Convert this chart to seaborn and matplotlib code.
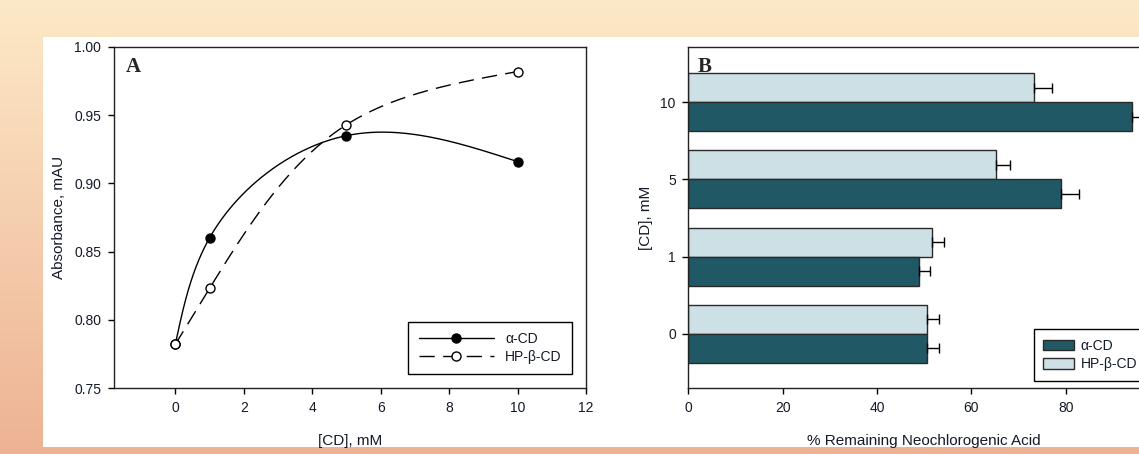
import numpy as np
import pandas as pd
import matplotlib
matplotlib.use("Agg")
import matplotlib.pyplot as plt
from matplotlib.patches import Rectangle, Patch
from matplotlib.lines import Line2D
import seaborn as sns

# ---------------- data ----------------
conc_a = [0, 1, 5, 10]
alpha_abs = [0.782, 0.860, 0.935, 0.916]
hpb_abs = [0.782, 0.823, 0.943, 0.982]

conc_labels = ["10", "5", "1", "0"]
alpha_remain = [94.1, 79.0, 48.9, 50.7]
alpha_err = [4.0, 3.8, 2.3, 2.5]
hpb_remain = [73.3, 65.2, 51.7, 50.7]
hpb_err = [3.7, 3.0, 2.5, 2.5]

series_names = ["α-CD", "HP-β-CD"]

# ---------------- style ----------------
sns.set_theme(style="ticks")
plt.rcParams["font.family"] = ["Liberation Sans", "DejaVu Sans"]
plt.rcParams["axes.linewidth"] = 1.0
plt.rcParams["xtick.major.size"] = 4
plt.rcParams["ytick.major.size"] = 4
plt.rcParams["xtick.major.width"] = 1
plt.rcParams["ytick.major.width"] = 1
TXT = "#141a28"

W, H = 1139, 454
fig = plt.figure(figsize=(W / 100, H / 100), dpi=100)

# background gradient + white panel
bg = fig.add_axes([0, 0, 1, 1], zorder=-10)
grad = np.linspace(0, 1, 256)[:, None]
top = np.array([0.992, 0.914, 0.780])
bot = np.array([0.930, 0.700, 0.580])
img = top[None, None, :] * (1 - grad[..., None]) + bot[None, None, :] * grad[..., None]
img = np.repeat(img, 2, axis=1)
bg.imshow(img, aspect="auto", extent=[0, 1, 0, 1], origin="upper")
bg.add_patch(Rectangle((43 / W, (H - 447) / H), 1 - 43 / W, (447 - 37) / H,
                       transform=bg.transAxes, facecolor="white", edgecolor="none"))
bg.set_xlim(0, 1); bg.set_ylim(0, 1)
bg.axis("off")


def natural_spline_1d(t, y, ts):
    t = np.asarray(t, float); y = np.asarray(y, float)
    n = len(t)
    h = np.diff(t)
    A = np.zeros((n, n)); r = np.zeros(n)
    A[0, 0] = 1; A[-1, -1] = 1
    for i in range(1, n - 1):
        A[i, i - 1] = h[i - 1]
        A[i, i] = 2 * (h[i - 1] + h[i])
        A[i, i + 1] = h[i]
        r[i] = 3 * ((y[i + 1] - y[i]) / h[i] - (y[i] - y[i - 1]) / h[i - 1])
    c = np.linalg.solve(A, r)
    b = np.zeros(n - 1); d = np.zeros(n - 1)
    for i in range(n - 1):
        b[i] = (y[i + 1] - y[i]) / h[i] - h[i] * (2 * c[i] + c[i + 1]) / 3
        d[i] = (c[i + 1] - c[i]) / (3 * h[i])
    idx = np.clip(np.searchsorted(t, ts, side="right") - 1, 0, n - 2)
    dt = ts - t[idx]
    return y[idx] + b[idx] * dt + c[idx] * dt ** 2 + d[idx] * dt ** 3


def parametric_spline(x, y, sx, sy, npts=400):
    """Smooth curve through the points, chord-length parametrised in screen scale."""
    x = np.asarray(x, float); y = np.asarray(y, float)
    px, py = x * sx, y * sy
    t = np.concatenate([[0], np.cumsum(np.hypot(np.diff(px), np.diff(py)))])
    ts = np.linspace(0, t[-1], npts)
    return natural_spline_1d(t, x, ts), natural_spline_1d(t, y, ts)


# ---------------- panel A ----------------
axA = fig.add_axes([113.7 / W, 66 / H, (586 - 113.7) / W, 341 / H])
SX, SY = 34.33, 1364.0  # px per data unit
cx1, cy1 = parametric_spline(conc_a, alpha_abs, SX, SY)
cx2, cy2 = parametric_spline(conc_a, hpb_abs, SX, SY)
sns.lineplot(x=cx1, y=cy1, ax=axA, color="black", lw=1.0, legend=False,
             estimator=None, sort=False)
sns.lineplot(x=cx2, y=cy2, ax=axA, color="black", lw=1.0, legend=False,
             estimator=None, sort=False)
axA.lines[1].set_dashes([11, 6])
sns.scatterplot(x=conc_a, y=alpha_abs, ax=axA, color="black", s=42, edgecolor="black",
                linewidth=1, zorder=5)
sns.scatterplot(x=conc_a, y=hpb_abs, ax=axA, color="white", s=42, edgecolor="black",
                linewidth=1, zorder=6)
axA.set_xlim(-1.8, 12)
axA.set_ylim(0.75, 1.0)
axA.set_xticks([0, 2, 4, 6, 8, 10, 12])
yt = [0.75, 0.80, 0.85, 0.90, 0.95, 1.00]
axA.set_yticks(yt)
axA.set_yticklabels([f"{v:.2f}" for v in yt])
axA.tick_params(labelsize=10, colors="black", labelcolor=TXT, pad=5)
axA.set_xlabel("[CD], mM", fontsize=11, color=TXT, labelpad=14)
axA.set_ylabel("Absorbance, mAU", fontsize=11, color=TXT, labelpad=6)
for s in axA.spines.values():
    s.set_color("#222222")
axA.text(0.025, 0.97, "A", transform=axA.transAxes, fontsize=15, fontweight="bold",
         family="Liberation Serif", va="top", ha="left")
hA = [Line2D([], [], color="black", lw=1, marker="o", ms=6.5, mfc="black", mec="black"),
      Line2D([], [], color="black", lw=1, marker="o", ms=6.5, mfc="white", mec="black",
             dashes=[11, 6])]
legA = axA.legend(hA, series_names, loc="lower right", bbox_to_anchor=(0.97, 0.041),
                  borderaxespad=0, fancybox=False, framealpha=1, edgecolor="black",
                  fontsize=10, handlelength=5.4, handletextpad=0.8, borderpad=0.75,
                  labelspacing=0.25)
legA.get_frame().set_linewidth(1)
for t in legA.get_texts():
    t.set_color(TXT)

# ---------------- panel B ----------------
axB = fig.add_axes([688.3 / W, 66 / H, 471.7 / W, 341 / H])
dfB = pd.DataFrame({
    "conc": conc_labels * 2,
    "value": hpb_remain + alpha_remain,
    "err": hpb_err + alpha_err,
    "series": [series_names[1]] * 4 + [series_names[0]] * 4,
})
c_dark = "#215866"
c_light = "#cde0e6"
sns.barplot(data=dfB, y="conc", x="value", hue="series", order=conc_labels,
            hue_order=[series_names[1], series_names[0]],
            palette={series_names[0]: c_dark, series_names[1]: c_light},
            orient="h", width=0.75, errorbar=None, ax=axB, edgecolor="#2a2a2a",
            linewidth=1, legend=False, saturation=1)
for bar in list(axB.patches):
    w = bar.get_width()
    yc = bar.get_y() + bar.get_height() / 2
    row = dfB[np.isclose(dfB["value"], w)]
    if len(row) == 0:
        continue
    e = row["err"].iloc[0]
    axB.errorbar(w, yc, xerr=[[0], [e]], fmt="none", ecolor="black", elinewidth=1,
                 capsize=3.6, capthick=1)
axB.set_xlim(0, 100)
axB.set_ylim(3.70, -0.715)
axB.set_xticks([0, 20, 40, 60, 80])
axB.tick_params(labelsize=10, colors="black", labelcolor=TXT, pad=5)
axB.set_xlabel("% Remaining Neochlorogenic Acid", fontsize=11, color=TXT, labelpad=14)
axB.set_ylabel("[CD], mM", fontsize=11, color=TXT, labelpad=5)
for s in axB.spines.values():
    s.set_color("#222222")
axB.text(0.02, 0.97, "B", transform=axB.transAxes, fontsize=15, fontweight="bold",
         family="Liberation Serif", va="top", ha="left")
hB = [Patch(facecolor=c_dark, edgecolor="#2a2a2a", lw=1),
      Patch(facecolor=c_light, edgecolor="#2a2a2a", lw=1)]
legB = axB.legend(hB, series_names, loc="lower left", bbox_to_anchor=(0.732, 0.0205),
                  borderaxespad=0, fancybox=False, framealpha=1, edgecolor="black",
                  fontsize=10, handlelength=2.2, handleheight=0.75, handletextpad=0.5,
                  borderpad=0.7, labelspacing=0.3)
legB.get_frame().set_linewidth(1)
for t in legB.get_texts():
    t.set_color(TXT)

fig.savefig("out.png", dpi=100)
